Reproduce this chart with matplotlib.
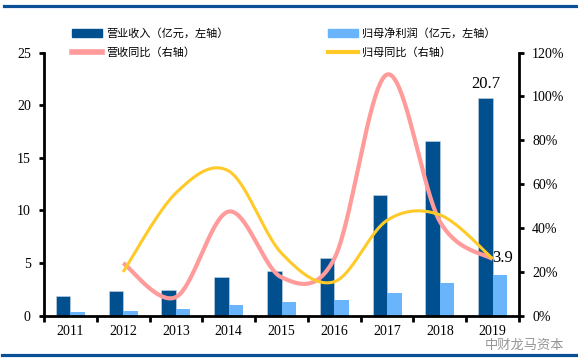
import numpy as np
import matplotlib
matplotlib.use("Agg")
import matplotlib.pyplot as plt
from matplotlib.lines import Line2D
from matplotlib.patches import Patch

years = ["2011", "2012", "2013", "2014", "2015", "2016", "2017", "2018", "2019"]
revenue = [1.87, 2.35, 2.47, 3.68, 4.28, 5.45, 11.5, 16.56, 20.7]
net_profit = [0.35, 0.45, 0.6, 1.02, 1.3, 1.46, 2.15, 3.1, 3.9]
rev_growth = [np.nan, 24, 8.5, 47.5, 17.5, 26, 110, 43, 25.8]
np_growth = [np.nan, 20, 56, 66, 28.5, 15.5, 43.5, 46, 26]
left_ticks = [0, 5, 10, 15, 20, 25]
right_ticks = [0, 20, 40, 60, 80, 100, 120]

labels = ["营业收入（亿元，左轴）", "归母净利润（亿元，左轴）", "营收同比（右轴）", "归母同比（右轴）"]

C_DARK = "#00508f"
C_LIGHT = "#6ab4fc"
C_PINK = "#ff9b9b"
C_YEL = "#ffca28"
C_RULE = "#0a5096"

serif = ["Liberation Serif", "DejaVu Serif"]
cjk = ["Noto Sans CJK SC", "DejaVu Sans"]

def catmull(xs, ys, n=40):
    pts = np.array([[x, y] for x, y in zip(xs, ys) if not np.isnan(y)], float)
    out = []
    m = len(pts)
    for i in range(m - 1):
        p0 = pts[i - 1] if i > 0 else pts[i]
        p1 = pts[i]
        p2 = pts[i + 1]
        p3 = pts[i + 2] if i + 2 < m else pts[i + 1]
        c1 = p1 + (p2 - p0) / 6.0
        c2 = p2 - (p3 - p1) / 6.0
        t = np.linspace(0, 1, n)[:, None]
        seg = ((1 - t) ** 3) * p1 + 3 * ((1 - t) ** 2) * t * c1 + 3 * (1 - t) * t ** 2 * c2 + t ** 3 * p2
        out.append(seg if i == 0 else seg[1:])
    out = np.vstack(out)
    return out[:, 0], out[:, 1]

W, H = 578, 361
fig = plt.figure(figsize=(W / 100, H / 100), dpi=100)
ax = fig.add_axes([44 / W, 1 - 315.7 / H, (519 - 44) / W, (315.7 - 52.6) / H])
ax2 = ax.twinx()

x = np.arange(len(years))
bw = 0.275
ax.bar(x - bw / 2, revenue, width=bw, color=C_DARK, edgecolor="#c9d6e6", linewidth=0.4, zorder=2)
ax.bar(x + bw / 2, net_profit, width=bw, color=C_LIGHT, zorder=2)

ax.set_xlim(-0.5, len(years) - 0.5)
ax.set_ylim(0, 25)
ax.set_yticks(left_ticks)
ax.set_yticklabels([str(v) for v in left_ticks])
ax.set_xticks(np.arange(-0.5, len(years), 1.0))
ax.set_xticklabels([])
ax.set_xticks(x, minor=True)
ax.set_xticklabels(years, minor=True)
ax.tick_params(axis="x", which="major", direction="out", length=4, width=2, color="black")
ax.tick_params(axis="x", which="minor", length=0, pad=7, labelsize=10)
ax.tick_params(axis="y", direction="out", length=3.5, width=2, pad=6, labelsize=10)
for lab in ax.get_xticklabels(minor=True) + ax.get_yticklabels():
    lab.set_family(serif)

for s in ["top", "right"]:
    ax.spines[s].set_visible(False)
for s in ["left", "bottom"]:
    ax.spines[s].set_linewidth(2)
    ax.spines[s].set_color("black")

ax2.set_ylim(0, 120)
ax2.set_yticks(right_ticks)
ax2.set_yticklabels([f"{v}%" for v in right_ticks])
ax2.tick_params(axis="y", direction="out", length=3.5, width=2, pad=6, labelsize=10)
for lab in ax2.get_yticklabels():
    lab.set_family(serif)
for s in ["top", "left", "bottom"]:
    ax2.spines[s].set_visible(False)
ax2.spines["right"].set_linewidth(2)
ax2.spines["right"].set_color("black")

sx, sy = catmull(x, rev_growth)
ax2.plot(sx, sy, color=C_PINK, lw=3.0, solid_capstyle="butt", zorder=3)
sx, sy = catmull(x, np_growth)
ax2.plot(sx, sy, color=C_YEL, lw=2.2, solid_capstyle="butt", zorder=4)

ax2.annotate(f"{revenue[-1]:.1f}", (x[-1] - bw / 2, revenue[-1]), xycoords=ax.transData,
             xytext=(0, 4), textcoords="offset points", ha="center", va="bottom",
             fontsize=12, family=serif, zorder=6)
ax2.annotate(f"{net_profit[-1]:.1f}", (x[-1] + bw / 2, net_profit[-1]), xycoords=ax.transData,
             xytext=(2, 6), textcoords="offset points", ha="center", va="bottom",
             fontsize=12, family=serif, zorder=6)

handles = [Patch(color=C_DARK), Line2D([0], [0], color=C_PINK, lw=4),
           Patch(color=C_LIGHT), Line2D([0], [0], color=C_YEL, lw=3)]
leg_labels = [labels[0], labels[2], labels[1], labels[3]]
fig.legend(handles, leg_labels, loc="upper left", bbox_to_anchor=(72 / W, 1 - 28 / H),
           ncol=2, frameon=False, borderpad=0, borderaxespad=0,
           handlelength=2.7, handleheight=0.6, handletextpad=0.4, columnspacing=8.9,
           labelspacing=0.7, prop={"family": cjk, "size": 8})

# top and bottom rules
fig.add_artist(Line2D([4 / W, 1], [1 - 6 / H, 1 - 6 / H], color=C_RULE, lw=2.3))
fig.add_artist(Line2D([2 / W, 1], [1 - 355 / H, 1 - 355 / H], color=C_RULE, lw=2.3))

fig.text(524 / W, 1 - 339 / H, "中财龙马资本", family=cjk, fontsize=9.5, color="#8a8a8a",
         ha="center", va="top", alpha=0.9)

fig.savefig("out.png", dpi=100)
